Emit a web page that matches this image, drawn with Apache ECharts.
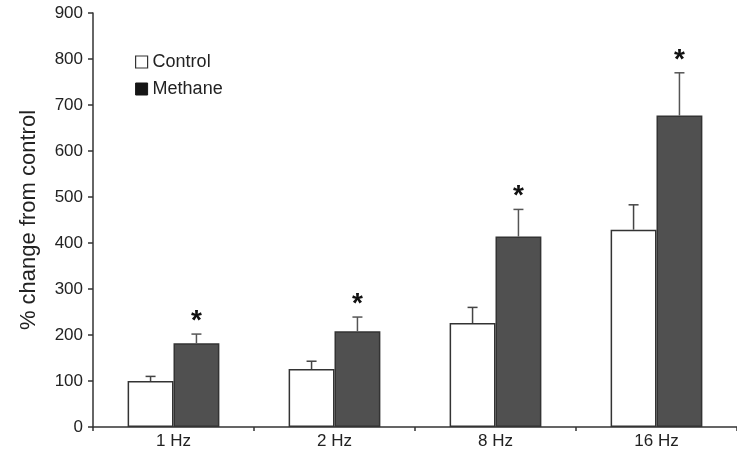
<!DOCTYPE html>
<html>
<head>
<meta charset="utf-8">
<script src="https://cdn.jsdelivr.net/npm/echarts@6/dist/echarts.min.js"></script>
<style>
  html, body { margin: 0; padding: 0; background: #fff; }
  #chart { width: 737px; height: 456px; }
</style>
</head>
<body>
<div id="chart"></div>
<script>
    'use strict';

    // values
    const categories = ['1 Hz', '2 Hz', '8 Hz', '16 Hz'];
    const controlValues = [100, 126, 226, 429];
    const controlErr = [10, 17, 34, 54];
    const methaneValues = [182, 208, 414, 677];
    const methaneErr = [20, 31, 59, 93];
    const methaneSignificant = [1, 1, 1, 1];
    const yTicks = [0, 100, 200, 300, 400, 500, 600, 700, 800, 900];

    const catGap = 0.43;
    const font = '"Liberation Sans", Arial, sans-serif';
    const axisColor = '#333';

    // whisker (only upward) + optional asterisk, shifted to the bar's slot
    function errorSeries(name, values, errs, side, stars, color) {
        return {
            type: 'custom',
            name: name + ' err',
            z: 5,
            data: values.map((v, i) => [i, v, v + errs[i], stars ? stars[i] : 0]),
            renderItem: function (params, api) {
                let catW = api.size([1, 0])[0];
                let barW = catW * (1 - catGap) / 2;
                let base = api.coord([api.value(0), api.value(1)]);
                let top = api.coord([api.value(0), api.value(2)]);
                let x = base[0] + side * barW / 2;
                let cap = 5;
                let kids = [
                    { type: 'line', shape: { x1: x, y1: base[1], x2: x, y2: top[1] },
                      style: { stroke: color, lineWidth: 1.5 } },
                    { type: 'line', shape: { x1: x - cap, y1: top[1], x2: x + cap, y2: top[1] },
                      style: { stroke: color, lineWidth: 1.5 } }
                ];
                if (api.value(3)) {
                    kids.push({
                        type: 'text',
                        style: {
                            text: '*', x: x, y: top[1] + 1,
                            align: 'center', verticalAlign: 'bottom',
                            font: 'bold 28px ' + font, fill: '#111'
                        }
                    });
                }
                return { type: 'group', children: kids };
            }
        };
    }

    let chart = echarts.init(document.getElementById('chart'));

    chart.setOption({
        animation: false,
        backgroundColor: '#fff',
        textStyle: { fontFamily: font },
        grid: { left: 93, right: -6, top: 13, bottom: 29, containLabel: false },
        legend: {
            orient: 'vertical',
            left: 130,
            top: 48,
            itemWidth: 12,
            itemHeight: 12,
            itemGap: 9,
            icon: 'rect',
            data: [
                { name: 'Control', itemStyle: { color: '#fff', borderColor: '#333', borderWidth: 1.2 } },
                { name: 'Methane', itemStyle: { color: '#151515', borderColor: '#151515', borderWidth: 1 } }
            ],
            textStyle: { fontSize: 18, color: '#222', fontFamily: font }
        },
        xAxis: {
            type: 'category',
            data: categories,
            axisLine: { lineStyle: { color: axisColor, width: 1.5 } },
            axisTick: { show: true, length: 4, lineStyle: { color: axisColor, width: 1.5 } },
            axisLabel: { fontSize: 17, color: '#222', margin: 6 },
            splitLine: { show: false }
        },
        yAxis: {
            type: 'value',
            min: yTicks[0],
            max: yTicks[yTicks.length - 1],
            interval: 100,
            name: '% change from control',
            nameLocation: 'middle',
            nameGap: 53,
            nameTextStyle: { fontSize: 22, color: '#222', fontFamily: font },
            axisLine: { show: true, lineStyle: { color: axisColor, width: 1.5 } },
            axisTick: { show: true, length: 5, lineStyle: { color: axisColor, width: 1.5 } },
            axisLabel: { fontSize: 17, color: '#222', margin: 10 },
            splitLine: { show: false }
        },
        series: [
            {
                name: 'Control',
                type: 'bar',
                data: controlValues,
                barGap: '0%',
                barCategoryGap: (catGap * 100) + '%',
                itemStyle: { color: '#fff', borderColor: '#333', borderWidth: 1.5 }
            },
            {
                name: 'Methane',
                type: 'bar',
                data: methaneValues,
                itemStyle: { color: '#505050', borderColor: '#333', borderWidth: 1.5 }
            },
            errorSeries('Control', controlValues, controlErr, -1, null, '#444'),
            errorSeries('Methane', methaneValues, methaneErr, 1, methaneSignificant, '#555')
        ]
    });
</script>
</body>
</html>
